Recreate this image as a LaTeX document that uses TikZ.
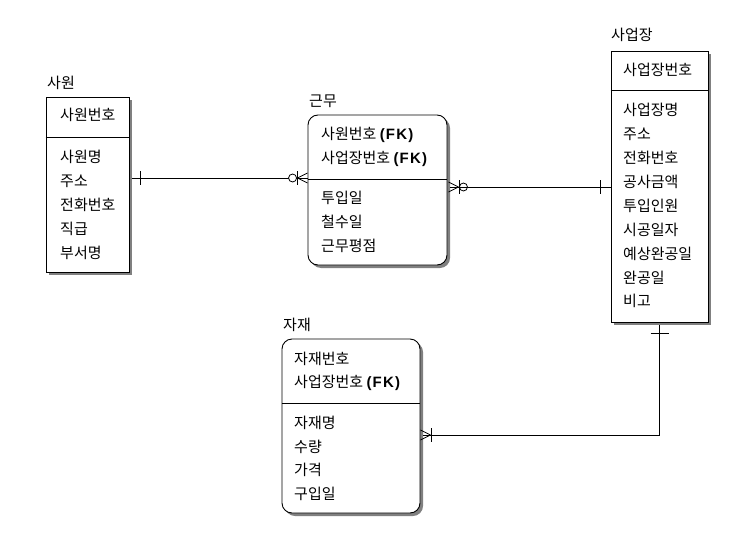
\documentclass[tikz,border=0pt]{standalone}
\usepackage{fontspec}
\setmainfont{Noto Sans CJK KR}
\newfontfamily\fkfont[LetterSpace=8]{Liberation Sans}

\tikzset{
  entity/.style={draw, line width=0.9pt, fill=white, inner sep=0pt},
  weak/.style={entity, rounded corners=10pt},
  shadowfill/.style={fill=black!50},
  attr/.style={anchor=west, inner sep=0pt, font=\fontsize{15}{17}\selectfont},
  rel/.style={line width=0.9pt},
  tickmark/.style={line width=0.8pt}
}
\newcommand{\fk}{ {\fkfont\bfseries\fontsize{15}{17}\selectfont (FK)}}

\begin{document}
\begin{tikzpicture}[x=1pt,y=-1pt]
\useasboundingbox (0,0) rectangle (741,543);

% shadows
\fill[shadowfill] (49,100) rectangle (132,275);
\fill[shadowfill, rounded corners=10pt] (311,118) rectangle (450,268);
\fill[shadowfill] (614,54) rectangle (711,325);
\fill[shadowfill, rounded corners=10pt] (285,342) rectangle (423,516);

% entities
\node[entity, minimum width=83pt, minimum height=175pt] (saone) at (87.5,184.5) {};
\node[weak, minimum width=139pt, minimum height=150pt] (gunmu) at (377.5,190) {};
\node[entity, minimum width=97pt, minimum height=271pt] (saeopjang) at (659.5,186.5) {};
\node[weak, minimum width=138pt, minimum height=174pt] (jajae) at (351,426) {};

% key dividers
\draw[rel] (saone.west |- 0,137) -- (saone.east |- 0,137);
\draw[rel] (gunmu.west |- 0,179) -- (gunmu.east |- 0,179);
\draw[rel] (saeopjang.west |- 0,90) -- (saeopjang.east |- 0,90);
\draw[rel] (jajae.west |- 0,403) -- (jajae.east |- 0,403);

% titles
\node[attr] (t1) at (47,83) {사원};
\node[attr] (t2) at (309,101) {근무};
\node[attr] (t3) at (611,35) {사업장};
\node[attr] (t4) at (283,325) {자재};

% 사원
\node[attr] (a1) at (60,115) {사원번호};
\node[attr] (a2) at (60,157) {사원명};
\node[attr] (a3) at (60,181) {주소};
\node[attr] (a4) at (60,205) {전화번호};
\node[attr] (a5) at (60,229) {직급};
\node[attr] (a6) at (60,253) {부서명};

% 근무
\node[attr] (b1) at (321,135) {사원번호\fk};
\node[attr] (b2) at (321,159) {사업장번호\fk};
\node[attr] (b3) at (321,198) {투입일};
\node[attr] (b4) at (321,222) {철수일};
\node[attr] (b5) at (321,246) {근무평점};

% 사업장
\node[attr] (c1) at (623,70) {사업장번호};
\node[attr] (c2) at (623,110) {사업장명};
\node[attr] (c3) at (623,134) {주소};
\node[attr] (c4) at (623,158) {전화번호};
\node[attr] (c5) at (623,182) {공사금액};
\node[attr] (c6) at (623,206) {투입인원};
\node[attr] (c7) at (623,230) {시공일자};
\node[attr] (c8) at (623,254) {예상완공일};
\node[attr] (c9) at (623,278) {완공일};
\node[attr] (c10) at (623,301) {비고};

% 자재
\node[attr] (d1) at (294,359) {자재번호};
\node[attr] (d2) at (294,383) {사업장번호\fk};
\node[attr] (d3) at (294,423) {자재명};
\node[attr] (d4) at (294,447) {수량};
\node[attr] (d5) at (294,470) {가격};
\node[attr] (d6) at (294,494) {구입일};

% 사원 -- 근무
\coordinate (r1a) at ([xshift=3pt]saone.east |- 0,178);
\coordinate (r1b) at (gunmu.west |- 0,178);
\draw[rel] (r1a) -- (r1b);
\draw[tickmark] ([xshift=8pt]r1a) ++(0,-7) -- ++(0,14);
\draw[tickmark] ([xshift=-10pt]r1b) ++(0,-7) -- ++(0,14);
\draw[tickmark, fill=white] ([xshift=-15pt]r1b) circle (4pt);
\draw[tickmark] ([xshift=-10pt]r1b) -- ++(10,-5);
\draw[tickmark] ([xshift=-10pt]r1b) -- ++(10,5);

% 근무 -- 사업장
\coordinate (r2a) at ([xshift=3pt]gunmu.east |- 0,187);
\coordinate (r2b) at (saeopjang.west |- 0,187);
\draw[rel] (r2a) -- (r2b);
\draw[tickmark] ([xshift=8pt]r2a) -- ++(-10,-5);
\draw[tickmark] ([xshift=8pt]r2a) -- ++(-10,5);
\draw[tickmark] ([xshift=9pt]r2a) ++(0,-7) -- ++(0,14);
\draw[tickmark] ([xshift=13pt]r2a) circle (4pt);
\draw[tickmark] ([xshift=-10pt]r2b) ++(0,-7) -- ++(0,14);

% 사업장 -- 자재
\coordinate (r3a) at (saeopjang.south |- 0,325);
\coordinate (r3b) at ([xshift=3pt]jajae.east |- 0,435);
\draw[rel] (r3a) |- (r3b);
\draw[tickmark] ([yshift=-8pt]r3a) ++(-9,0) -- ++(18,0);
\draw[tickmark] ([xshift=7pt]r3b) -- ++(-10,-5);
\draw[tickmark] ([xshift=7pt]r3b) -- ++(-10,5);
\draw[tickmark] ([xshift=8pt]r3b) ++(0,-7) -- ++(0,14);
\end{tikzpicture}
\end{document}
